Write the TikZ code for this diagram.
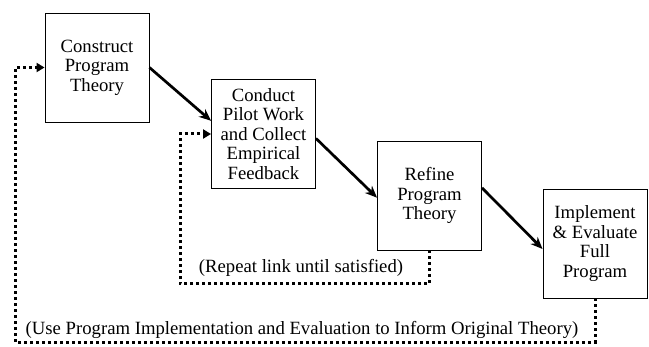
\documentclass[tikz,border=0pt]{standalone}
\usepackage{fontspec}
\setmainfont{Liberation Serif}
\usepackage{tikz}
\usetikzlibrary{arrows.meta,calc,positioning}

\tikzset{
  stagebox/.style={draw, line width=0.9pt, minimum width=104pt, minimum height=109pt,
    inner sep=0pt, align=center, font=\fontsize{18.7}{19.5}\selectfont},
  flowarrow/.style={line width=2.7pt, -{Stealth[length=12pt,width=10pt]}},
  loopline/.style={line width=3pt, dash pattern=on 3pt off 3pt,
    -{Triangle[length=8pt,width=9pt]}},
  looplabel/.style={font=\fontsize{18.7}{19.5}\selectfont, inner sep=0pt}
}

\begin{document}
\begin{tikzpicture}[x=1pt, y=1pt]
  \useasboundingbox (0,0) rectangle (649,346);
  % the four stages
  \node[stagebox] (construct) at (97,278.5) {Construct\\Program\\Theory};
  \node[stagebox] (pilot) at (263.5,212) {Conduct\\Pilot Work\\and Collect\\Empirical\\Feedback};
  \node[stagebox] (refine) at (429.5,150.5) {Refine\\Program\\Theory};
  \node[stagebox] (implement) at (595,102.5) {Implement\\\& Evaluate\\Full\\Program};
  % main flow
  \draw[flowarrow] (construct.east) -- ($(pilot.north west)!0.38!(pilot.south west)$);
  \draw[flowarrow] ($(pilot.north east)!0.54!(pilot.south east)$) -- ($(refine.north west)!0.52!(refine.south west)$);
  \draw[flowarrow] ($(refine.north east)!0.43!(refine.south east)$) -- ($(implement.north west)!0.55!(implement.south west)$);
  % feedback loops
  \coordinate (innerbot) at (180,62);
  \coordinate (outerbot) at (15,4);
  \draw[loopline] (refine.south) |- (innerbot) |- (pilot.west);
  \draw[loopline] (implement.south) |- (outerbot) |- (construct.west);
  \node[looplabel] (repeat) at (301,78) {(Repeat link until satisfied)};
  \node[looplabel] (inform) at (302,16) {(Use Program Implementation and Evaluation to Inform Original Theory)};
\end{tikzpicture}
\end{document}
